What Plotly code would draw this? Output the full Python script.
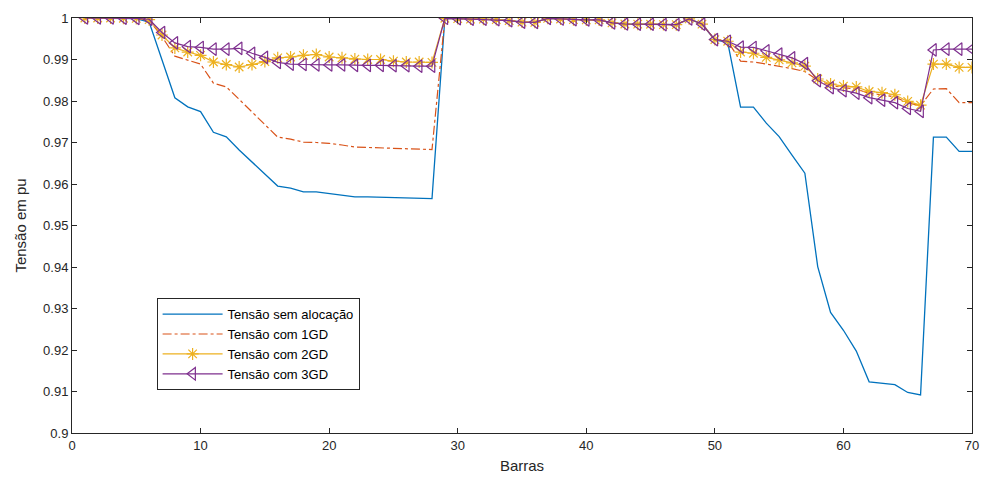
import plotly.graph_objects as go

barras = list(range(1, 71))

sem_alocacao = [
    1.0, 1.0, 0.99997, 0.99993, 0.99984, 0.99902, 0.99009, 0.98079, 0.97858, 0.97745,
    0.97245, 0.97135, 0.96819, 0.96526, 0.96237, 0.95951, 0.95898, 0.95809, 0.95808, 0.95763,
    0.95735, 0.95689, 0.95688, 0.95682, 0.95668, 0.95655, 0.95650, 0.95648, 0.99993, 0.99985,
    0.99973, 0.99971, 0.99961, 0.99935, 0.99901, 0.99895, 0.99992, 0.99975, 0.99959, 0.99954,
    0.99954, 0.99884, 0.99855, 0.99851, 0.99850, 0.99841, 0.99840, 0.99979, 0.99854, 0.99470,
    0.99415, 0.97853, 0.97853, 0.97466, 0.97141, 0.96695, 0.96262, 0.94010, 0.92904, 0.92476,
    0.91974, 0.91234, 0.91205, 0.91166, 0.90977, 0.90919, 0.97129, 0.97129, 0.96786, 0.96786,
]

com_1gd = [
    1.0, 1.0, 0.99998, 0.99995, 0.9999, 0.9995, 0.9955, 0.9908, 0.9899, 0.9889,
    0.9843, 0.9834, 0.9804, 0.9774, 0.9743, 0.9713, 0.9708, 0.9701, 0.9700, 0.9698,
    0.9694, 0.9689, 0.9688, 0.9687, 0.9686, 0.9685, 0.9684, 0.9683, 0.99993, 0.99985,
    0.99973, 0.99971, 0.99961, 0.99935, 0.99901, 0.99895, 0.99992, 0.99975, 0.99959, 0.99954,
    0.99954, 0.99884, 0.99855, 0.99851, 0.99850, 0.99841, 0.99840, 0.99979, 0.99854, 0.9948,
    0.9944, 0.9896, 0.9894, 0.9889, 0.9884, 0.9878, 0.9871, 0.9850, 0.9838, 0.9832,
    0.9829, 0.9818, 0.9815, 0.9810, 0.9795, 0.9789, 0.9829, 0.9830, 0.9796, 0.9796,
]

com_2gd = [
    1.0, 1.0, 1.0, 0.99995, 0.9999, 0.9996, 0.9959, 0.9928, 0.9918, 0.9910,
    0.9894, 0.9888, 0.9882, 0.9888, 0.9895, 0.9904, 0.9906, 0.9910, 0.9912, 0.9906,
    0.9904, 0.9901, 0.9900, 0.9900, 0.9896, 0.9894, 0.9894, 0.9893, 0.99993, 0.99985,
    0.99973, 0.99971, 0.99961, 0.99935, 0.99901, 0.99895, 0.99992, 0.99975, 0.99959, 0.99954,
    0.99954, 0.99884, 0.99855, 0.99851, 0.99850, 0.99841, 0.99840, 0.99979, 0.99854, 0.9948,
    0.9944, 0.9918, 0.9915, 0.9905, 0.9899, 0.9892, 0.9884, 0.9853, 0.9841, 0.9836,
    0.9834, 0.9823, 0.9820, 0.9815, 0.9799, 0.9790, 0.9889, 0.9889, 0.9881, 0.9881,
]

com_3gd = [
    1.0, 1.0, 1.0, 0.99996, 0.9999, 0.9997, 0.9965, 0.9940, 0.9931, 0.9929,
    0.9925, 0.9925, 0.9927, 0.9915, 0.9905, 0.9893, 0.9889, 0.9888, 0.9887, 0.9887,
    0.9887, 0.9886, 0.9886, 0.9886, 0.9885, 0.9885, 0.9884, 0.9884, 0.99993, 0.99985,
    0.99973, 0.99971, 0.99961, 0.99935, 0.99901, 0.99895, 0.99992, 0.99975, 0.99959, 0.99954,
    0.99954, 0.99884, 0.99855, 0.99851, 0.99850, 0.99841, 0.99840, 0.99979, 0.99854, 0.9948,
    0.9944, 0.9930, 0.9929, 0.9921, 0.9913, 0.9904, 0.9890, 0.9849, 0.9832, 0.9825,
    0.9819, 0.9808, 0.9802, 0.9796, 0.9782, 0.9775, 0.9923, 0.9925, 0.9925, 0.9925,
]

nomes = ["Tensão sem alocação", "Tensão com 1GD", "Tensão com 2GD", "Tensão com 3GD"]
x_ticks = [0, 10, 20, 30, 40, 50, 60, 70]
y_ticks = [0.9, 0.91, 0.92, 0.93, 0.94, 0.95, 0.96, 0.97, 0.98, 0.99, 1.0]

FONT = "Liberation Sans, Arial, sans-serif"

fig = go.Figure()
fig.add_trace(go.Scatter(x=barras, y=sem_alocacao, name=nomes[0], mode="lines",
                         line=dict(color="#0072BD", width=1.3)))
fig.add_trace(go.Scatter(x=barras, y=com_1gd, name=nomes[1], mode="lines",
                         line=dict(color="#D95319", width=1.2, dash="dashdot")))
fig.add_trace(go.Scatter(x=barras, y=com_2gd, name=nomes[2], mode="lines+markers",
                         line=dict(color="#EDB120", width=1.2),
                         marker=dict(symbol="asterisk-open", size=10,
                                     line=dict(color="#EDB120", width=1.2))))
fig.add_trace(go.Scatter(x=barras, y=com_3gd, name=nomes[3], mode="lines+markers",
                         line=dict(color="#7E2F8E", width=1.2),
                         marker=dict(symbol="triangle-left-open", size=11, color="#7E2F8E",
                                     line=dict(color="#7E2F8E", width=1.2))))

axis_common = dict(
    showline=True, linecolor="#262626", linewidth=1, mirror="allticks",
    ticks="inside", ticklen=5, tickcolor="#262626", tickwidth=1,
    showgrid=False, zeroline=False, automargin=False,
    tickfont=dict(family=FONT, size=13, color="#262626"),
)

fig.update_xaxes(range=[0, 70], tickvals=x_ticks, ticktext=[str(v) for v in x_ticks],
                 title=dict(text="Barras", font=dict(family=FONT, size=15, color="#262626"),
                            standoff=8),
                 **axis_common)
fig.update_yaxes(range=[0.9, 1.0], tickvals=y_ticks, ticktext=[f"{v:g}" for v in y_ticks],
                 title=dict(text="Tensão em pu", font=dict(family=FONT, size=15, color="#262626"),
                            standoff=12),
                 **axis_common)

fig.update_layout(
    width=982, height=483,
    margin=dict(l=72, r=10, t=18, b=50, autoexpand=False),
    paper_bgcolor="white", plot_bgcolor="white",
    showlegend=True,
    legend=dict(x=0.094, y=0.325, xanchor="left", yanchor="top",
                bgcolor="white", bordercolor="#262626", borderwidth=1,
                font=dict(family=FONT, size=13, color="#000000"),
                tracegroupgap=0, itemwidth=60),
)

fig.write_html("out.html")
